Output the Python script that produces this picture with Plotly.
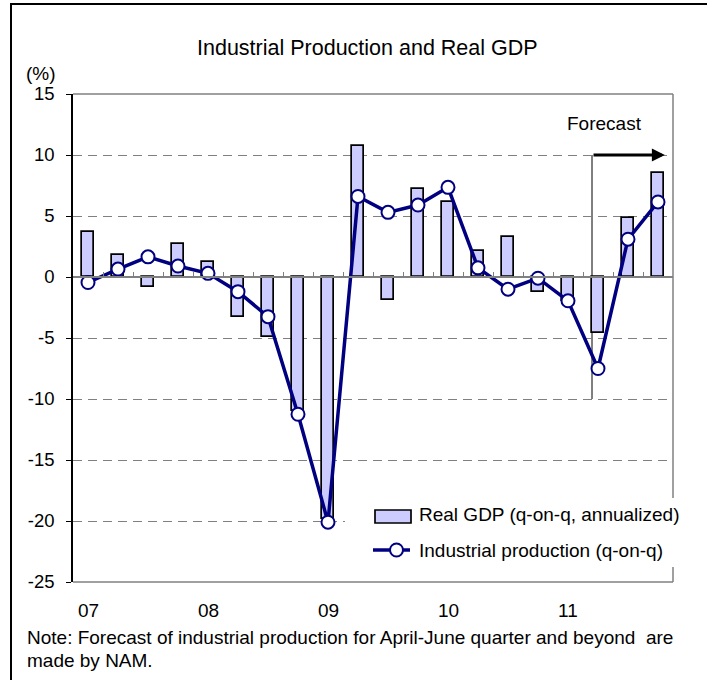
import plotly.graph_objects as go

# ---- data ----
quarters = ["07Q1", "07Q2", "07Q3", "07Q4", "08Q1", "08Q2", "08Q3", "08Q4",
            "09Q1", "09Q2", "09Q3", "09Q4", "10Q1", "10Q2", "10Q3", "10Q4",
            "11Q1", "11Q2", "11Q3", "11Q4"]
gdp = [3.7, 1.8, -0.85, 2.7, 1.2, -3.3, -4.9, -11.0,
       -19.8, 10.7, -1.9, 7.25, 6.15, 2.1, 3.3, -1.25,
       -2.0, -4.55, 4.85, 8.5]
ip = [-0.45, 0.65, 1.65, 0.9, 0.3, -1.2, -3.25, -11.25,
      -20.1, 6.6, 5.3, 5.9, 7.35, 0.75, -1.0, -0.1,
      -1.95, -7.5, 3.1, 6.15]
year_labels = ["07", "08", "09", "10", "11"]
y_ticks = [15, 10, 5, 0, -5, -10, -15, -20, -25]

# ---- layout geometry (pixels) ----
W, H = 707, 680
ML, MR, MT, MB = 73, 34, 94, 98
PW, PH = W - ML - MR, H - MT - MB


def px(xp):
    return (xp - ML) / PW


def py(yp):
    return (H - MB - yp) / PH


FONT = "Arial, Liberation Sans, sans-serif"
x = list(range(len(quarters)))

fig = go.Figure()
fig.add_bar(x=x, y=gdp, width=0.4, customdata=quarters,
            marker=dict(color="#CCCCFF", line=dict(color="black", width=1.7)),
            showlegend=False)
fig.add_scatter(x=x, y=ip, mode="lines+markers",
                line=dict(color="#000080", width=3.5),
                marker=dict(size=13, color="white", line=dict(color="#000080", width=2)),
                showlegend=False)

shapes = []
# forecast vertical line
fc_x = len(quarters) - 3 - 0.2
shapes.append(dict(type="line", xref="x", yref="y", x0=fc_x, x1=fc_x, y0=10, y1=-10,
                   line=dict(color="black", width=1), layer="below"))
# plot border (top, right, bottom)
for (a, b, c, d) in [(0, 1, 1, 1), (1, 1, 0, 1), (0, 1, 0, 0)]:
    shapes.append(dict(type="line", xref="paper", yref="paper", x0=a, x1=b, y0=c, y1=d,
                       line=dict(color="#808080", width=1.5), layer="above"))
# outer frame
shapes.append(dict(type="rect", xref="paper", yref="paper",
                   x0=px(11), x1=px(730), y0=py(700), y1=py(4),
                   line=dict(color="black", width=2), layer="above"))
# legend background
shapes.append(dict(type="rect", xref="paper", yref="paper",
                   x0=px(345), x1=px(690), y0=py(567), y1=py(498),
                   fillcolor="white", line=dict(width=0), layer="above"))
# legend swatches
shapes.append(dict(type="rect", xref="paper", yref="paper",
                   x0=px(375), x1=px(411), y0=py(523), y1=py(510),
                   fillcolor="#CCCCFF", line=dict(color="black", width=1.7), layer="above"))
shapes.append(dict(type="line", xref="paper", yref="paper",
                   x0=px(373), x1=px(410), y0=py(550), y1=py(550),
                   line=dict(color="#000080", width=3.5), layer="above"))
shapes.append(dict(type="circle", xref="paper", yref="paper",
                   x0=px(390), x1=px(403), y0=py(556.5), y1=py(543.5),
                   fillcolor="white", line=dict(color="#000080", width=2), layer="above"))

annotations = []
annotations.append(dict(text="Industrial Production and Real GDP", xref="paper", yref="paper",
                        x=px(367.5), y=py(48), showarrow=False, xanchor="center", yanchor="middle",
                        font=dict(size=21.5, color="black", family=FONT)))
annotations.append(dict(text="(%)", xref="paper", yref="paper",
                        x=px(41), y=py(73), showarrow=False, xanchor="center", yanchor="middle",
                        font=dict(size=19, color="black", family=FONT)))
for i, lab in enumerate(year_labels):
    annotations.append(dict(text=lab, xref="x", yref="paper", x=i * 4, y=py(610),
                            showarrow=False, xanchor="center", yanchor="middle",
                            font=dict(size=19, color="black", family=FONT)))
annotations.append(dict(text="Note: Forecast of industrial production for April-June quarter and beyond  are",
                        xref="paper", yref="paper", x=px(25), y=py(637), showarrow=False,
                        xanchor="left", yanchor="middle",
                        font=dict(size=19, color="black", family=FONT)))
annotations.append(dict(text="made by NAM.",
                        xref="paper", yref="paper", x=px(25), y=py(660), showarrow=False,
                        xanchor="left", yanchor="middle",
                        font=dict(size=19, color="black", family=FONT)))
annotations.append(dict(text="Forecast", xref="x", yref="y", x=fc_x + 0.41, y=12.6,
                        showarrow=False, xanchor="center", yanchor="middle",
                        font=dict(size=19, color="black", family=FONT)))
annotations.append(dict(text="", xref="x", yref="y", x=len(quarters) - 1 + 0.23, y=10,
                        ax=fc_x, ay=10, axref="x", ayref="y", showarrow=True,
                        arrowhead=2, arrowwidth=3, arrowsize=0.87, arrowcolor="black",
                        standoff=0, startstandoff=0))
annotations.append(dict(text="Real GDP (q-on-q, annualized)", xref="paper", yref="paper",
                        x=px(416.5), y=py(514), showarrow=False, xanchor="left", yanchor="middle",
                        font=dict(size=19, color="black", family=FONT)))
annotations.append(dict(text="Industrial production (q-on-q)", xref="paper", yref="paper",
                        x=px(416.5), y=py(550), showarrow=False, xanchor="left", yanchor="middle",
                        font=dict(size=19, color="black", family=FONT)))

fig.update_layout(
    width=W, height=H,
    margin=dict(l=ML, r=MR, t=MT, b=MB, pad=0),
    paper_bgcolor="white", plot_bgcolor="white",
    font=dict(family=FONT, size=19, color="black"),
    showlegend=False,
    bargap=0,
    xaxis=dict(range=[-0.5, len(quarters) - 0.5], anchor="free", position=25 / 40,
               showline=True, linecolor="#808080", linewidth=1.5,
               ticks="inside", ticklen=4, tickcolor="#808080", tickwidth=1,
               tickvals=[k - 0.5 for k in range(len(quarters) + 1)],
               showticklabels=False, showgrid=False, zeroline=False, fixedrange=True),
    yaxis=dict(range=[-25, 15], tickvals=y_ticks, ticktext=[str(v) for v in y_ticks],
               showline=True, linecolor="black", linewidth=1.5,
               ticks="outside", ticklen=5, tickcolor="black",
               tickfont=dict(size=18.5, color="black", family=FONT),
               ticklabelstandoff=8,
               showgrid=True, gridcolor="#808080", gridwidth=1, griddash="9px,6px",
               zeroline=False, fixedrange=True),
    shapes=shapes,
    annotations=annotations,
)

fig.write_html("out.html", config={"displayModeBar": False},
               post_script="document.body.style.margin='0';document.body.style.overflow='hidden';")
